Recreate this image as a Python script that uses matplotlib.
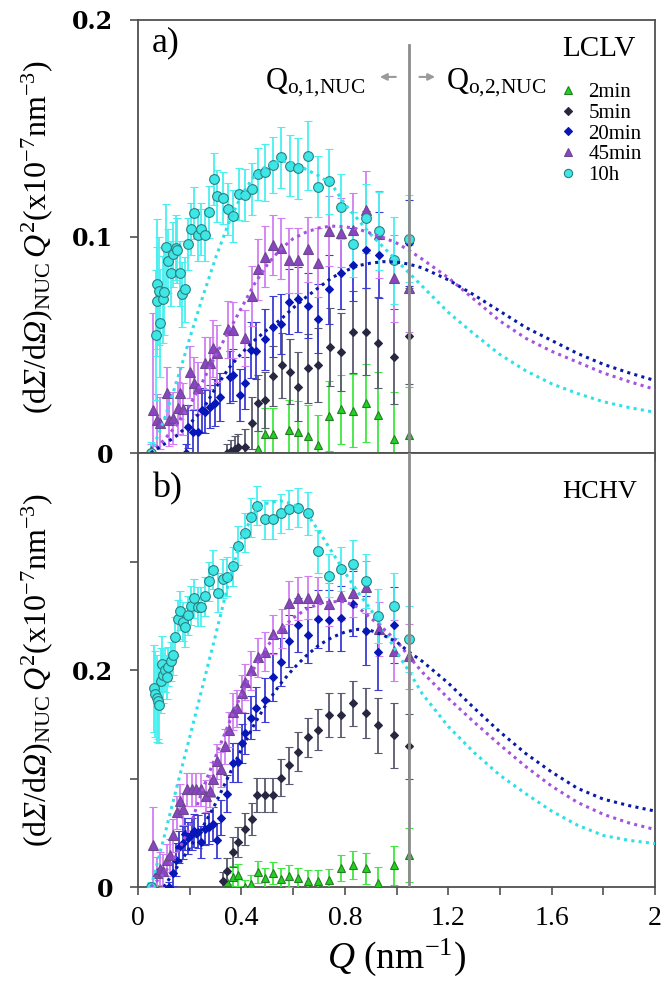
import matplotlib
matplotlib.use('Agg')
import matplotlib.pyplot as plt
from matplotlib.lines import Line2D
import numpy as np

plt.rcParams['font.family'] = 'Liberation Serif'
plt.rcParams['mathtext.fontset'] = 'custom'
plt.rcParams['mathtext.rm'] = 'Liberation Serif'
plt.rcParams['mathtext.it'] = 'Liberation Serif:italic'
plt.rcParams['mathtext.bf'] = 'Liberation Serif:bold'
# italic capital greek (mathit forces them upright), used through \mathsf
plt.rcParams['mathtext.sf'] = 'Liberation Serif:italic'

# ---------------- data ----------------
series_names = ['2min', '5min', '20min', '45min', '10h']

# panel a) LCLV
q_2min_a = [0.466, 0.491, 0.524, 0.585, 0.62, 0.659, 0.698, 0.74, 0.784, 0.83, 0.882, 0.93, 0.99, 1.05]
v_2min_a = [0.002, 0.009, 0.009, 0.0106, 0.0099, 0.008, 0.0037, 0.0171, 0.0202, 0.0196, 0.0233, 0.0176, 0.0063, 0.0083]
e_2min_a = [0.008, 0.012, 0.012, 0.014, 0.014, 0.014, 0.014, 0.016, 0.016, 0.017, 0.018, 0.02, 0.022, 0.022]

q_5min_a = [0.343, 0.36, 0.375, 0.387, 0.414, 0.44, 0.466, 0.491, 0.524, 0.556, 0.588, 0.62, 0.659, 0.698,
            0.743, 0.784, 0.83, 0.882, 0.93, 0.99, 1.05]
v_5min_a = [0.0, 0.001, 0.002, 0.003, 0.003, 0.0137, 0.023, 0.0245, 0.0356, 0.0406, 0.0376, 0.0306, 0.0391, 0.0406,
            0.0491, 0.0468, 0.056, 0.056, 0.051, 0.0445, 0.054]
e_5min_a = [0.004, 0.005, 0.006, 0.006, 0.008, 0.012, 0.013, 0.013, 0.014, 0.015, 0.015, 0.016, 0.016, 0.017,
            0.018, 0.018, 0.019, 0.02, 0.021, 0.022, 0.022]

q_20min_a = [0.186, 0.195, 0.211, 0.231, 0.246, 0.259, 0.279, 0.298, 0.317, 0.356, 0.369, 0.395, 0.414, 0.436,
             0.456, 0.491, 0.521, 0.552, 0.585, 0.62, 0.659, 0.698, 0.74, 0.784, 0.83, 0.881, 0.934, 1.05]
v_20min_a = [0.0, 0.0122, 0.0099, 0.0099, 0.0199, 0.0191, 0.0214, 0.0233, 0.026, 0.0352, 0.036, 0.0268, 0.0322, 0.0476,
             0.0473, 0.0525, 0.0584, 0.0596, 0.0699, 0.071, 0.068, 0.062, 0.0756, 0.0833, 0.087, 0.094, 0.0915, 0.097]
e_20min_a = [0.004, 0.01, 0.01, 0.01, 0.01, 0.01, 0.01, 0.011, 0.011, 0.012, 0.012, 0.012, 0.012, 0.013,
             0.013, 0.014, 0.014, 0.014, 0.015, 0.015, 0.015, 0.016, 0.016, 0.017, 0.017, 0.018, 0.02, 0.02]

q_45min_a = [0.049, 0.057, 0.072, 0.085, 0.111, 0.121, 0.134, 0.156, 0.162, 0.175, 0.201, 0.218, 0.233, 0.259,
             0.279, 0.291, 0.307, 0.347, 0.366, 0.414, 0.44, 0.466, 0.491, 0.521, 0.553, 0.585, 0.62, 0.659,
             0.698, 0.74, 0.784, 0.83, 0.881, 0.934, 0.99, 1.05]
v_45min_a = [0.001, 0.0199, 0.0152, 0.0137, 0.0276, 0.0152, 0.016, 0.0206, 0.0276, 0.0202, 0.0376, 0.0322, 0.0299, 0.0414,
             0.0414, 0.0483, 0.046, 0.0571, 0.0568, 0.053, 0.0725, 0.0848, 0.0907, 0.0961, 0.0945, 0.0891, 0.0891, 0.0942,
             0.0879, 0.1025, 0.1018, 0.103, 0.1122, 0.101, 0.0807, 0.076]
e_45min_a = [0.003, 0.045, 0.012, 0.012, 0.012, 0.012, 0.012, 0.012, 0.012, 0.012, 0.012, 0.012, 0.012, 0.012,
             0.012, 0.013, 0.013, 0.013, 0.013, 0.013, 0.014, 0.014, 0.014, 0.014, 0.014, 0.015, 0.015, 0.015,
             0.016, 0.016, 0.016, 0.017, 0.018, 0.02, 0.02, 0.02]

q_10h_a = [0.049, 0.068, 0.072, 0.075, 0.082, 0.085, 0.095, 0.102, 0.108, 0.117, 0.126, 0.137, 0.146, 0.152,
           0.162, 0.171, 0.182, 0.192, 0.205, 0.215, 0.231, 0.244, 0.26, 0.275, 0.294, 0.307, 0.328, 0.347,
           0.369, 0.389, 0.414, 0.44, 0.465, 0.491, 0.524, 0.553, 0.588, 0.62, 0.659, 0.698, 0.74, 0.784,
           0.83, 0.882, 0.934, 0.99, 1.05]
v_10h_a = [0.0, 0.0545, 0.078, 0.07, 0.075, 0.06, 0.071, 0.0745, 0.095, 0.0887, 0.083, 0.0917, 0.0948, 0.0937,
           0.083, 0.0734, 0.0757, 0.0964, 0.1035, 0.111, 0.1007, 0.1035, 0.1007, 0.1115, 0.1264, 0.1187, 0.118, 0.1125,
           0.1095, 0.1196, 0.119, 0.1218, 0.1289, 0.1296, 0.133, 0.1366, 0.1327, 0.1315, 0.1373, 0.123, 0.1256, 0.1138,
           0.0965, 0.1084, 0.1027, 0.089, 0.099]
e_10h_a = [0.005, 0.03, 0.03, 0.025, 0.025, 0.025, 0.02, 0.02, 0.02, 0.015, 0.015, 0.015, 0.015, 0.015,
           0.015, 0.015, 0.015, 0.012, 0.012, 0.012, 0.012, 0.012, 0.012, 0.012, 0.012, 0.012, 0.012, 0.012,
           0.012, 0.012, 0.012, 0.012, 0.012, 0.013, 0.013, 0.014, 0.014, 0.014, 0.016, 0.014, 0.015, 0.015,
           0.015, 0.016, 0.018, 0.02, 0.02]

# panel b) HCHV
q_2min_b = [0.346, 0.366, 0.388, 0.414, 0.436, 0.466, 0.491, 0.521, 0.552, 0.585, 0.62, 0.659, 0.698, 0.74,
            0.784, 0.83, 0.882, 0.93, 0.99, 1.05]
v_2min_b = [0.0048, 0.0094, 0.011, 0.0003, 0.0027, 0.014, 0.0079, 0.0131, 0.0073, 0.01, 0.0079, 0.0058, 0.0058, 0.0064,
            0.0171, 0.0201, 0.0171, 0.0034, 0.0201, 0.0292]
e_2min_b = [0.008, 0.01, 0.01, 0.006, 0.008, 0.01, 0.01, 0.01, 0.01, 0.01, 0.01, 0.01, 0.01, 0.01,
            0.012, 0.013, 0.014, 0.015, 0.018, 0.025]

q_5min_b = [0.33, 0.346, 0.369, 0.388, 0.414, 0.44, 0.462, 0.491, 0.521, 0.552, 0.585, 0.62, 0.659, 0.698,
            0.74, 0.784, 0.83, 0.882, 0.93, 0.99, 1.05]
v_5min_b = [0.0058, 0.0149, 0.0322, 0.0414, 0.0536, 0.0627, 0.0849, 0.0849, 0.0849, 0.1007, 0.1123, 0.1245, 0.1379, 0.1449,
            0.1586, 0.1586, 0.1692, 0.1601, 0.1489, 0.1397, 0.1297]
e_5min_b = [0.008, 0.012, 0.014, 0.014, 0.015, 0.015, 0.016, 0.016, 0.016, 0.017, 0.017, 0.018, 0.018, 0.019,
            0.02, 0.02, 0.021, 0.023, 0.025, 0.03, 0.03]

q_20min_b = [0.121, 0.134, 0.147, 0.16, 0.173, 0.182, 0.195, 0.208, 0.218, 0.231, 0.244, 0.259, 0.276, 0.289,
             0.307, 0.32, 0.346, 0.369, 0.388, 0.401, 0.414, 0.436, 0.456, 0.491, 0.524, 0.552, 0.585, 0.62,
             0.659, 0.698, 0.74, 0.784, 0.83, 0.882, 0.93, 0.99]
v_20min_b = [0.0, 0.0125, 0.0253, 0.0368, 0.041, 0.049, 0.045, 0.049, 0.052, 0.051, 0.0414, 0.0536, 0.055, 0.0582,
             0.043, 0.064, 0.0861, 0.1144, 0.115, 0.1327, 0.1418, 0.1562, 0.1647, 0.1723, 0.1936, 0.2073, 0.2271, 0.2414,
             0.2322, 0.2469, 0.246, 0.2475, 0.2612, 0.2362, 0.2164, 0.2414]
e_20min_b = [0.005, 0.012, 0.015, 0.015, 0.015, 0.015, 0.015, 0.015, 0.015, 0.015, 0.015, 0.015, 0.015, 0.016,
             0.016, 0.016, 0.017, 0.018, 0.018, 0.018, 0.019, 0.02, 0.02, 0.02, 0.022, 0.022, 0.024, 0.025,
             0.026, 0.027, 0.028, 0.03, 0.03, 0.032, 0.035, 0.035]

q_45min_b = [0.049, 0.059, 0.072, 0.085, 0.098, 0.113, 0.124, 0.137, 0.15, 0.162, 0.175, 0.191, 0.208, 0.225,
             0.243, 0.263, 0.279, 0.291, 0.307, 0.32, 0.337, 0.353, 0.369, 0.384, 0.401, 0.414, 0.436, 0.466,
             0.491, 0.524, 0.556, 0.585, 0.62, 0.659, 0.698, 0.74, 0.784, 0.83, 0.882, 0.934, 0.99, 1.05]
v_45min_b = [0.0, 0.0384, 0.0125, 0.017, 0.015, 0.0247, 0.0292, 0.0475, 0.0688, 0.0795, 0.0719, 0.0901, 0.0901, 0.09,
             0.09, 0.084, 0.0886, 0.0993, 0.116, 0.1084, 0.1297, 0.1449, 0.1616, 0.1647, 0.1784, 0.189, 0.2, 0.2119,
             0.217, 0.2331, 0.2384, 0.2621, 0.266, 0.2667, 0.266, 0.2605, 0.2682, 0.2712, 0.2767, 0.2377, 0.218, 0.2125]
e_45min_b = [0.004, 0.035, 0.015, 0.015, 0.015, 0.015, 0.015, 0.015, 0.015, 0.015, 0.015, 0.015, 0.015, 0.015,
             0.015, 0.015, 0.015, 0.016, 0.016, 0.016, 0.016, 0.016, 0.017, 0.017, 0.017, 0.017, 0.018, 0.018,
             0.018, 0.018, 0.018, 0.02, 0.02, 0.02, 0.02, 0.02, 0.022, 0.022, 0.024, 0.025, 0.028, 0.03]

q_10h_b = [0.049, 0.062, 0.067, 0.072, 0.077, 0.082, 0.088, 0.092, 0.097, 0.104, 0.111, 0.118, 0.126, 0.134,
           0.143, 0.153, 0.162, 0.173, 0.182, 0.195, 0.205, 0.217, 0.231, 0.244, 0.259, 0.275, 0.289, 0.308,
           0.328, 0.346, 0.369, 0.388, 0.413, 0.436, 0.462, 0.491, 0.521, 0.552, 0.585, 0.62, 0.659, 0.698,
           0.74, 0.784, 0.83, 0.882, 0.93, 0.99, 1.05]
v_10h_b = [0.0, 0.183, 0.178, 0.174, 0.171, 0.168, 0.19, 0.206, 0.195, 0.2, 0.1936, 0.203, 0.208, 0.2134,
           0.2307, 0.2469, 0.2545, 0.2444, 0.2393, 0.2505, 0.2591, 0.266, 0.2584, 0.2582, 0.2682, 0.2819, 0.2925, 0.2712,
           0.284, 0.2858, 0.2956, 0.3144, 0.3267, 0.3406, 0.3513, 0.3388, 0.3388, 0.3443, 0.3482, 0.3495, 0.3443, 0.3093,
           0.287, 0.2932, 0.298, 0.2819, 0.25, 0.2591, 0.2286]
e_10h_b = [0.005, 0.04, 0.04, 0.04, 0.035, 0.035, 0.03, 0.025, 0.025, 0.02, 0.02, 0.018, 0.018, 0.018,
           0.018, 0.018, 0.018, 0.018, 0.018, 0.018, 0.018, 0.018, 0.018, 0.018, 0.018, 0.018, 0.018, 0.018,
           0.018, 0.018, 0.018, 0.018, 0.018, 0.018, 0.018, 0.018, 0.018, 0.018, 0.018, 0.018, 0.02, 0.02,
           0.02, 0.02, 0.022, 0.025, 0.025, 0.03, 0.03]

# fitted model curves
q_fit = [0.05, 0.1, 0.15, 0.2, 0.25, 0.3, 0.35, 0.4, 0.45, 0.5, 0.55, 0.6, 0.65, 0.7, 0.75, 0.8,
         0.85, 0.9, 0.95, 1.0, 1.05, 1.1, 1.2, 1.3, 1.4, 1.5, 1.6, 1.7, 1.8, 1.9, 2.0]
fit_20min_a = [0.0, 0.004, 0.008, 0.0135, 0.02, 0.03, 0.039, 0.046, 0.052, 0.057, 0.0615, 0.067, 0.072, 0.0765, 0.081, 0.084,
               0.0865, 0.0877, 0.0884, 0.0882, 0.0872, 0.0855, 0.08, 0.073, 0.0655, 0.058, 0.052, 0.046, 0.041, 0.037, 0.0335]
fit_45min_a = [0.0, 0.006, 0.013, 0.022, 0.033, 0.045, 0.056, 0.067, 0.078, 0.087, 0.094, 0.099, 0.102, 0.104, 0.1048, 0.1045,
               0.1035, 0.1015, 0.0995, 0.097, 0.0935, 0.0895, 0.081, 0.071, 0.061, 0.053, 0.047, 0.042, 0.037, 0.033, 0.0294]
fit_10h_a = [0.0, 0.015, 0.033, 0.053, 0.072, 0.09, 0.106, 0.119, 0.128, 0.133, 0.135, 0.134, 0.131, 0.128, 0.124, 0.115,
             0.108, 0.101, 0.095, 0.089, 0.083, 0.077, 0.065, 0.055, 0.0455, 0.038, 0.032, 0.0275, 0.0237, 0.021, 0.0188]
fit_20min_b = [np.nan, 0.0, 0.018, 0.036, 0.055, 0.077, 0.102, 0.127, 0.15, 0.17, 0.187, 0.201, 0.213, 0.223, 0.23, 0.235,
               0.2375, 0.2365, 0.232, 0.226, 0.2164, 0.208, 0.188, 0.165, 0.143, 0.123, 0.106, 0.091, 0.081, 0.075, 0.07]
fit_45min_b = [0.0, 0.012, 0.03, 0.055, 0.09, 0.12, 0.15, 0.178, 0.202, 0.222, 0.237, 0.248, 0.256, 0.261, 0.263, 0.263,
               0.258, 0.248, 0.238, 0.227, 0.212, 0.198, 0.174, 0.152, 0.131, 0.111, 0.093, 0.078, 0.067, 0.059, 0.053]
fit_10h_b = [0.0, 0.045, 0.092, 0.138, 0.185, 0.232, 0.28, 0.322, 0.345, 0.354, 0.356, 0.353, 0.345, 0.328, 0.309, 0.29,
             0.272, 0.256, 0.237, 0.217, 0.198, 0.178, 0.148, 0.124, 0.103, 0.086, 0.07, 0.057, 0.0475, 0.043, 0.04]

q_boundary = 1.05   # Q_o limit, vertical grey line

xticks = [0, 0.4, 0.8, 1.2, 1.6, 2]
xticklabels = ['0', '0.4', '0.8', '1.2', '1.6', '2']
yticks_a = [0, 0.1, 0.2]
yticklabels_a = ['0', '0.1', '0.2']
yticks_b = [0, 0.2]
yticklabels_b = ['0', '0.2']

# ---------------- styles ----------------
mk = {
    '2min':  dict(marker='^', ms=6, mfc='#1ed21e', mec='#2a7a2a', ecolor='#3ee83e'),
    '5min':  dict(marker='D', ms=4.5, mfc='#272742', mec='#272742', ecolor='#5a5a6e'),
    '20min': dict(marker='D', ms=4.5, mfc='#0716b8', mec='#0716b8', ecolor='#3b3bd6'),
    '45min': dict(marker='^', ms=7, mfc='#8a44c2', mec='#6a4a8a', ecolor='#d27ef2'),
    '10h':   dict(marker='o', ms=7, mfc='#3ee6e6', mec='#2a8080', ecolor='#48f0f0'),
}
fit_col = {'20min': '#0a1aa8', '45min': '#a552e0', '10h': '#2ee0e8'}

fig = plt.figure(figsize=(6.65, 9.99), dpi=100)
ax1 = fig.add_axes([0.2075, 0.5465, 0.7775, 0.4335])
ax2 = fig.add_axes([0.2075, 0.1121, 0.7775, 0.4344])

panels = [
    (ax1, [(q_2min_a, v_2min_a, e_2min_a), (q_5min_a, v_5min_a, e_5min_a), (q_20min_a, v_20min_a, e_20min_a),
           (q_45min_a, v_45min_a, e_45min_a), (q_10h_a, v_10h_a, e_10h_a)],
     {'20min': fit_20min_a, '45min': fit_45min_a, '10h': fit_10h_a}),
    (ax2, [(q_2min_b, v_2min_b, e_2min_b), (q_5min_b, v_5min_b, e_5min_b), (q_20min_b, v_20min_b, e_20min_b),
           (q_45min_b, v_45min_b, e_45min_b), (q_10h_b, v_10h_b, e_10h_b)],
     {'20min': fit_20min_b, '45min': fit_45min_b, '10h': fit_10h_b}),
]

for ax, series, fits in panels:
    for name, (q, v, e) in zip(series_names, series):
        s = mk[name]
        ax.errorbar(q, v, yerr=e, fmt=s['marker'], ms=s['ms'], mfc=s['mfc'], mec=s['mec'], mew=0.8,
                    ecolor=s['ecolor'], elinewidth=1.3, capsize=3, capthick=1.0, zorder=3)
    for name in ['10h', '45min', '20min']:
        ax.plot(q_fit, fits[name], linestyle=(0, (1, 1.4)), lw=2.2, color=fit_col[name], zorder=4)

ylabel = (r'$(\mathrm{d}\mathsf{\Sigma}/\mathrm{d}\mathsf{\Omega})_{\mathrm{NUC}}\,'
          r'\mathit{Q}^{2}(\mathrm{x10^{-7}nm^{-3}})$')

for ax, ylim, yt, ytl in [(ax1, 0.2, yticks_a, yticklabels_a), (ax2, 0.4, yticks_b, yticklabels_b)]:
    ax.set_xlim(0, 2)
    ax.set_ylim(0, ylim)
    ax.set_xticks(xticks)
    ax.set_xticks(np.arange(0, 2.01, 0.2), minor=True)
    ax.set_yticks(yt)
    ax.set_yticklabels(ytl, family='DejaVu Serif', fontweight='bold', fontsize=17)
    ax.tick_params(axis='both', which='both', direction='out', length=6, width=1.2, colors='#505050',
                   top=False, right=False)
    ax.tick_params(axis='y', labelcolor='black', pad=12)
    for sp in ax.spines.values():
        sp.set_color('#505050')
        sp.set_linewidth(1.3)
    ax.set_ylabel(ylabel, fontsize=23)
    ax.yaxis.set_label_coords(-0.16, 0.5)

ax2.set_yticks([0.1, 0.3], minor=True)
ax1.set_xticklabels([])
ax2.set_xticklabels(xticklabels, fontsize=20)
ax2.tick_params(axis='x', labelcolor='black', pad=8)
ax2.set_xlabel(r'$\mathit{Q}$ (nm$^{-1}$)', fontsize=27, labelpad=4)

# vertical Q_o line and labels
ax1.axvline(q_boundary, ymax=0.942, color='#8c8c8c', lw=2, zorder=5)
ax2.axvline(q_boundary, color='#8c8c8c', lw=2, zorder=5)
ax1.annotate('', xy=(0.925, 0.1737), xytext=(1.008, 0.1737),
             arrowprops=dict(arrowstyle='-|>', color='#9a9a9a', lw=1.5, mutation_scale=10))
ax1.annotate('', xy=(1.16, 0.1737), xytext=(1.078, 0.1737),
             arrowprops=dict(arrowstyle='-|>', color='#9a9a9a', lw=1.5, mutation_scale=10))
ax1.text(0.88, 0.168, r'$\mathrm{Q}_{\mathrm{o{,}1{,}NUC}}$', fontsize=22, ha='right', va='baseline')
ax1.text(1.19, 0.168, r'$\mathrm{Q}_{\mathrm{o{,}2{,}NUC}}$', fontsize=22, ha='left', va='baseline')

ax1.text(0.027, 0.985, 'a)', transform=ax1.transAxes, fontsize=26, ha='left', va='top')
ax2.text(0.027, 0.955, 'b)', transform=ax2.transAxes, fontsize=26, ha='left', va='top')
ax1.text(0.82, 0.962, 'LCLV', transform=ax1.transAxes, fontsize=21, ha='left', va='top')
ax2.text(0.82, 0.935, 'HCHV', transform=ax2.transAxes, fontsize=19, ha='left', va='top')

handles = [Line2D([], [], ls='none', marker=mk[n]['marker'], ms=mk[n]['ms'] * 0.85,
                  mfc=mk[n]['mfc'], mec=mk[n]['mec'], mew=0.8) for n in series_names]
ax1.legend(handles, series_names, loc='upper left', bbox_to_anchor=(0.815, 0.855), frameon=False,
           fontsize=15, handlelength=0.8, handletextpad=0.6, labelspacing=0.05,
           borderpad=0, borderaxespad=0)

fig.savefig('out.png', dpi=100)
